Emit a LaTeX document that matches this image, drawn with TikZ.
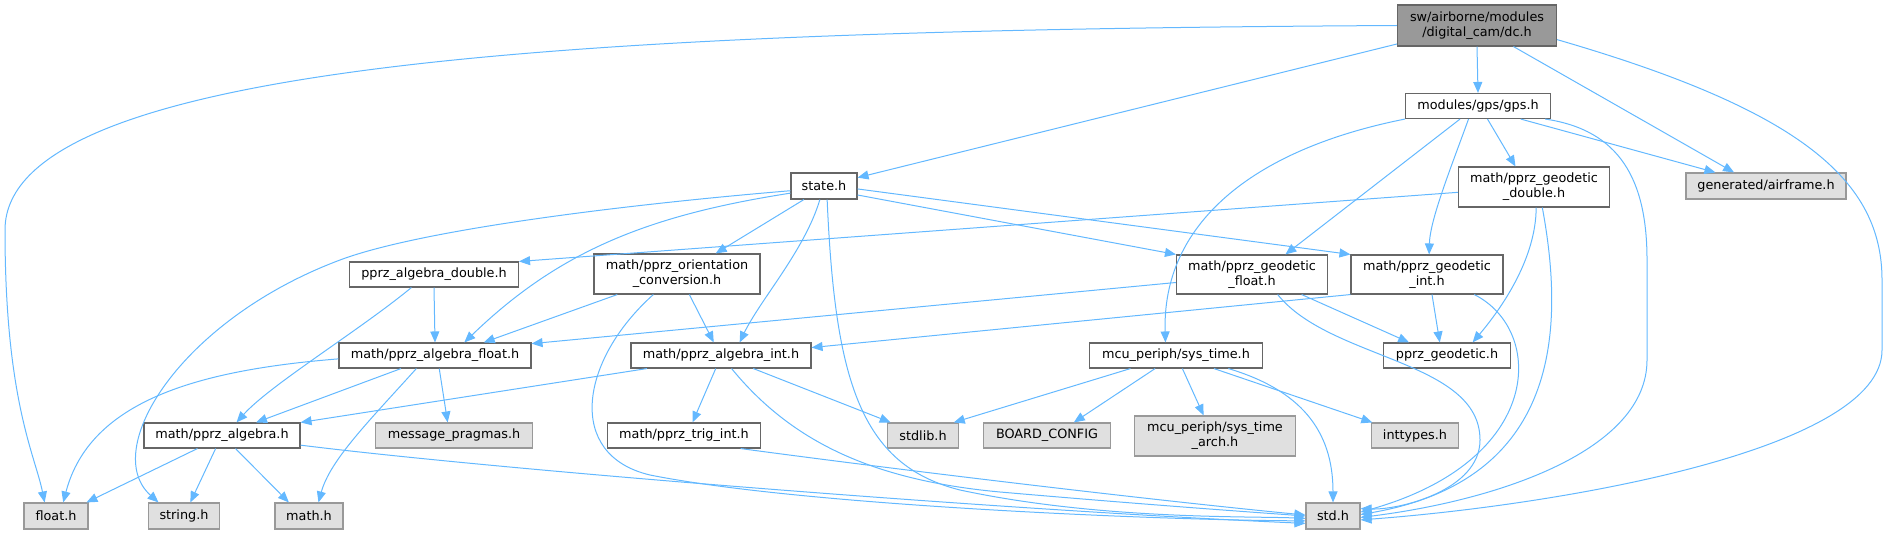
\documentclass[tikz,border=0pt]{standalone}
\usepackage{fontspec}
\setmainfont{DejaVu Sans}
\usetikzlibrary{arrows.meta}

\definecolor{edgeblue}{HTML}{63B8FF}
\definecolor{boxgray}{HTML}{666666}
\definecolor{leafgray}{HTML}{999999}
\definecolor{leaffill}{HTML}{E0E0E0}
\definecolor{rootfill}{HTML}{999999}

\tikzset{
  file/.style={draw=boxgray, fill=white, line width=0.55pt, minimum height=12.5pt, inner sep=0pt, align=center, font=\fontsize{6.4}{7.5}\selectfont},
  leaf/.style={file, draw=leafgray, fill=leaffill},
  root/.style={file, fill=rootfill},
  edge/.style={draw=edgeblue, line width=0.5pt, -{Triangle[length=5.5pt,width=4.5pt]}}
}

\begin{document}
\begin{tikzpicture}[x=0.5pt,y=-0.5pt]
        \useasboundingbox (0,0) rectangle (1888,535);
        
        % top files
        \node[root, minimum width=79.5pt, minimum height=20.5pt] (dc) at (1477,25.5) {sw/airborne/modules\\/digital\_cam/dc.h};
        \node[file, minimum width=72.5pt] (gps) at (1478,106) {modules/gps/gps.h};
        \node[file, minimum width=75.5pt, minimum height=20pt] (geodbl) at (1534,187) {math/pprz\_geodetic\\\_double.h};
        \node[leaf, minimum width=80pt, minimum height=13pt] (airframe) at (1766,186) {generated/airframe.h};
        \node[file, minimum width=33pt, minimum height=13pt] (state) at (824,186) {state.h};
        
        % middle files
        \node[file, minimum width=75.5pt, minimum height=19.5pt] (geoflt) at (1252,274.5) {math/pprz\_geodetic\\\_float.h};
        \node[file, minimum width=76pt, minimum height=19.5pt] (geoint) at (1427,274.5) {math/pprz\_geodetic\\\_int.h};
        \node[file, minimum width=83pt, minimum height=20pt] (orient) at (677,274) {math/pprz\_orientation\\\_conversion.h};
        \node[file, minimum width=84.5pt] (algdbl) at (434,274.5) {pprz\_algebra\_double.h};
        \node[file, minimum width=96pt] (algflt) at (435,355.5) {math/pprz\_algebra\_float.h};
        \node[file, minimum width=90pt] (algint) at (721,355.5) {math/pprz\_algebra\_int.h};
        \node[file, minimum width=86.5pt] (systime) at (1176,355.5) {mcu\_periph/sys\_time.h};
        \node[file, minimum width=63.5pt] (geodetic) at (1447,355.5) {pprz\_geodetic.h};
        
        % lower files
        \node[file, minimum width=78pt] (algebra) at (222,435.5) {math/pprz\_algebra.h};
        \node[leaf, minimum width=78.5pt] (pragmas) at (454,435.5) {message\_pragmas.h};
        \node[file, minimum width=76.5pt] (trigint) at (684,435.5) {math/pprz\_trig\_int.h};
        \node[leaf, minimum width=35.5pt] (stdlib) at (923,435.5) {stdlib.h};
        \node[leaf, minimum width=63.5pt] (board) at (1047,435.5) {BOARD\_CONFIG};
        \node[leaf, minimum width=80.5pt, minimum height=20pt] (arch) at (1215,436) {mcu\_periph/sys\_time\\\_arch.h};
        \node[leaf, minimum width=43.5pt] (inttypes) at (1415,435.5) {inttypes.h};
        
        % bottom files
        \node[leaf, minimum width=32pt, minimum height=13pt] (floath) at (56,516) {float.h};
        \node[leaf, minimum width=35.5pt, minimum height=13pt] (stringh) at (184,516) {string.h};
        \node[leaf, minimum width=34pt, minimum height=13pt] (mathh) at (309,516) {math.h};
        \node[leaf, minimum width=27pt, minimum height=13pt] (stdh) at (1333,516) {std.h};
        
        % dc.h
        \draw[edge] (dc.west) .. controls (600,30) and (5,60) .. (5,230) .. controls (5,400) and (35,455) .. (floath.130);
        \draw[edge] (dc.193) -- (state.14);
        \draw[edge] (dc.south) -- (gps.north);
        \draw[edge] (dc.-30) -- (airframe.157);
        \draw[edge] (dc.-10) .. controls (1800,110) and (1882,180) .. (1882,280) -- (1882,350) .. controls (1882,450) and (1560,505) .. (stdh.-8);
        
        % gps.h
        \draw[edge] (gps.-17) -- (airframe.165);
        \draw[edge] (gps.-11) .. controls (1620,130) and (1647,180) .. (1647,260) -- (1647,360) .. controls (1647,450) and (1500,500) .. (stdh.-3);
        \draw[edge] (gps.-54) -- (geodbl.132);
        \draw[edge] (gps.-126) .. controls (1450,170) and (1430,220) .. (geoint.84);
        \draw[edge] (gps.-144) -- (geoflt.31);
        \draw[edge] (gps.south west) .. controls (1250,150) and (1162,225) .. (systime.129);
        
        % geodetic double, int, float
        \draw[edge] (geodbl.184) -- (algdbl.north east);
        \draw[edge] (geodbl.-84) .. controls (1536,260) and (1500,310) .. (geodetic.27);
        \draw[edge] (geodbl.-68) .. controls (1565,330) and (1560,480) .. (stdh.3);
        \draw[edge] (geoint.-76) -- (geodetic.119);
        \draw[edge] (geoint.-23) .. controls (1545,330) and (1545,460) .. (stdh.8);
        \draw[edge] (geoint.south west) -- (algint.5);
        \draw[edge] (geoflt.186) -- (algflt.7);
        \draw[edge] (geoflt.-22) -- (geodetic.161);
        \draw[edge] (geoflt.-38) .. controls (1330,360) and (1480,360) .. (1480,440) .. controls (1480,490) and (1400,510) .. (stdh.15);
        
        % state.h
        \draw[edge] (state.188) .. controls (620,205) and (420,230) .. (340,260) .. controls (180,320) and (100,450) .. (stringh.152);
        \draw[edge] (state.192) .. controls (650,215) and (560,250) .. (algflt.24);
        \draw[edge] (state.-146) -- (orient.28);
        \draw[edge] (state.-107) .. controls (805,250) and (760,300) .. (algint.35);
        \draw[edge] (state.-77) .. controls (835,380) and (860,465) .. (960,490) .. controls (1100,520) and (1250,516) .. (stdh.185);
        \draw[edge] (state.-15) -- (geoflt.north west);
        \draw[edge] (state.-5) -- (geoint.north west);
        
        % algebra double and orientation
        \draw[edge] (algdbl.south) -- (algflt.north);
        \draw[edge] (algdbl.-150) .. controls (360,330) and (270,385) .. (algebra.42);
        \draw[edge] (orient.-161) -- (algflt.15);
        \draw[edge] (orient.-59) -- (algint.119);
        \draw[edge] (orient.-139) .. controls (580,360) and (565,455) .. (650,475) .. controls (800,505) and (1150,520) .. (stdh.190);
        
        % algebra float and int
        \draw[edge] (algflt.182) .. controls (200,370) and (90,400) .. (floath.62);
        \draw[edge] (algflt.-159) -- (algebra.21);
        \draw[edge] (algflt.-72) -- (pragmas.116);
        \draw[edge] (algflt.-145) .. controls (370,420) and (330,460) .. (mathh.55);
        \draw[edge] (algint.-170) -- (algebra.north east);
        \draw[edge] (algint.-112) -- (trigint.57);
        \draw[edge] (algint.-22) -- (stdlib.158);
        \draw[edge] (algint.-51) .. controls (790,440) and (870,480) .. (1000,492) .. controls (1150,505) and (1250,512) .. (stdh.180);
        
        % pprz_algebra.h and trig
        \draw[edge] (algebra.-152) -- (floath.24);
        \draw[edge] (algebra.-116) -- (stringh.65);
        \draw[edge] (algebra.-44) -- (mathh.146);
        \draw[edge] (algebra.-7) .. controls (500,470) and (1000,510) .. (stdh.195);
        \draw[edge] (trigint.-13) .. controls (900,470) and (1150,500) .. (stdh.178);
        
        % sys_time.h
        \draw[edge] (systime.-164) -- (stdlib.23);
        \draw[edge] (systime.-148) -- (board.26);
        \draw[edge] (systime.-64) -- (arch.119);
        \draw[edge] (systime.-19) -- (inttypes.163);
        \draw[edge] (systime.-14) .. controls (1300,390) and (1333,430) .. (stdh.north);
    \end{tikzpicture}
\end{document}
